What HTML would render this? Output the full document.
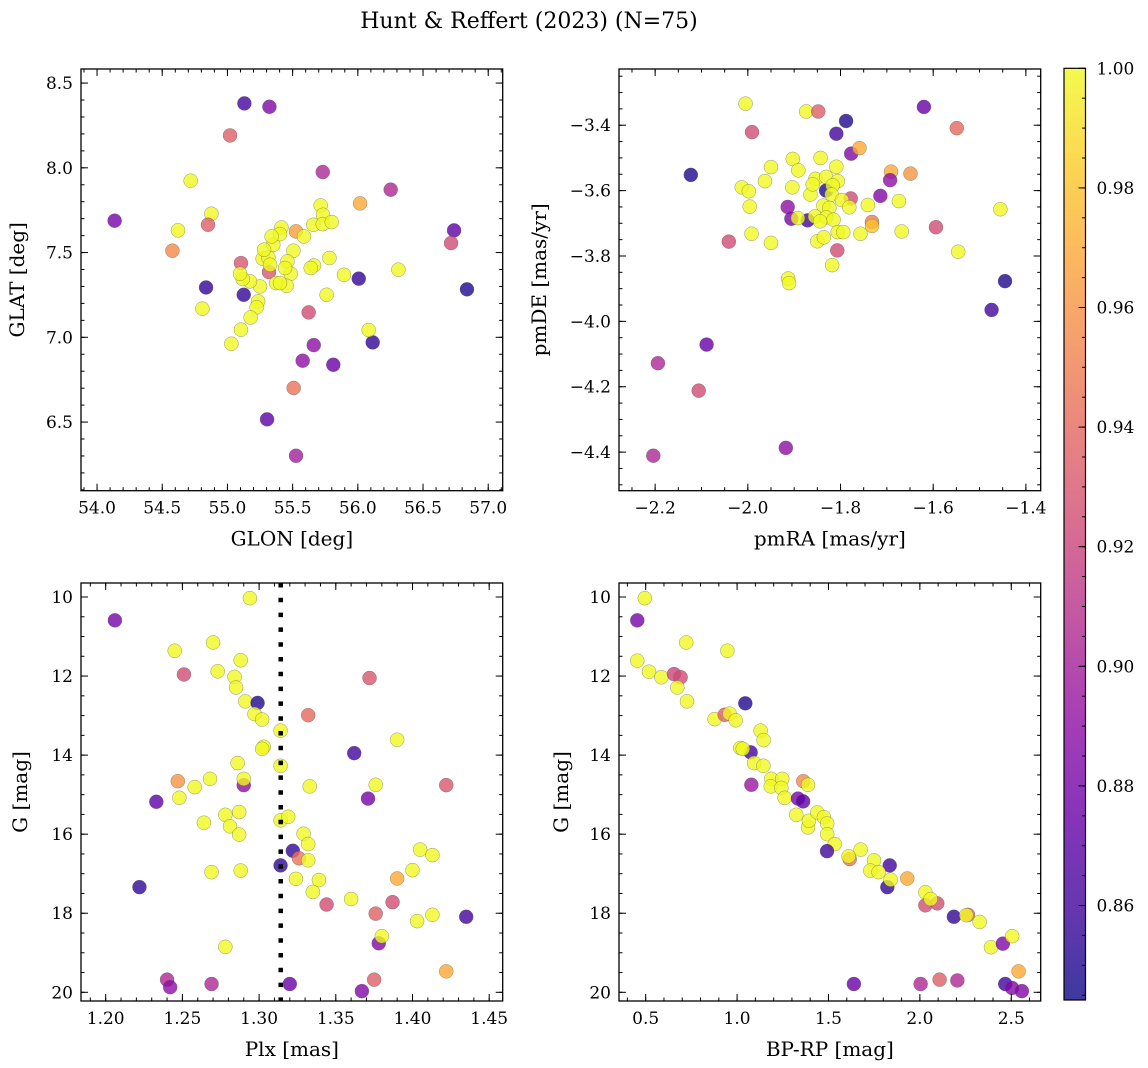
<!DOCTYPE html>
<html><head><meta charset="utf-8"><style>
html,body{margin:0;padding:0;background:#fff;}
svg{display:block;font-family:"DejaVu Serif","Liberation Serif",serif;}
</style></head><body>
<svg id="fig" width="1148" height="1068" viewBox="0 0 1148 1068" xmlns="http://www.w3.org/2000/svg">
<text x="529" y="28" font-size="22" text-anchor="middle">Hunt &amp; Reffert (2023) (N=75)</text>
</svg>
<script>
// ---- data ----
const glon = [54.135,55.130,55.322,55.020,54.718,55.731,56.252,56.017,54.877,54.851,54.621,54.578,56.738,56.715,54.836,55.125,54.808,56.007,56.311,56.837,55.623,55.662,55.577,55.812,56.114,56.083,55.030,55.508,55.304,55.526,55.104,55.319,55.526,
55.270,55.314,55.327,55.352,55.414,55.403,55.506,55.460,55.485,55.454,55.373,55.250,55.173,55.117,55.097,55.235,55.224,55.178,55.104,55.587,55.659,55.715,55.733,55.731,55.800,55.664,55.639,55.782,55.894,55.761,55.339,55.281,55.403,55.442];
const glat = [7.688,8.380,8.360,8.191,7.924,7.975,7.871,7.790,7.729,7.664,7.631,7.511,7.631,7.556,7.294,7.251,7.169,7.346,7.399,7.283,7.147,6.954,6.862,6.838,6.970,7.043,6.962,6.701,6.516,6.301,7.438,7.385,7.625,
7.464,7.471,7.428,7.546,7.648,7.609,7.511,7.448,7.375,7.304,7.320,7.300,7.330,7.344,7.375,7.212,7.177,7.117,7.045,7.595,7.664,7.778,7.723,7.668,7.680,7.424,7.409,7.468,7.369,7.251,7.595,7.517,7.320,7.409];
const prob1 = [0.88,0.86,0.885,0.935,1,0.905,0.905,0.97,1,0.935,1,0.955,0.87,0.925,0.855,0.855,1,0.855,1,0.85,0.925,0.89,0.89,0.875,0.855,1,1,0.945,0.87,0.9,0.93,0.93,0.965,
1,1,1,1,1,1,1,1,1,1,1,1,1,1,1,1,1,1,1,1,1,1,1,1,1,1,1,1,1,1,1,1,1,1];

const pmra = [-2.005,-1.874,-1.848,-1.788,-1.620,-1.549,-1.991,-1.809,-1.777,-1.759,-2.123,-1.691,-1.693,-1.649,-1.714,-1.778,-1.831,-1.914,-1.906,-1.871,-1.732,-1.594,-1.455,-2.041,-1.807,-1.546,-1.818,-1.913,-1.911,-1.445,-1.474,-2.089,-2.194,-2.106,-1.918,-2.204,
-2.013,-1.998,-1.996,-1.963,-1.950,-1.903,-1.891,-1.904,-1.843,-1.809,-1.854,-1.831,-1.806,-1.817,-1.865,-1.860,-1.819,-1.797,-1.837,-1.781,-1.741,-1.674,-1.824,-1.855,-1.831,-1.815,-1.844,-1.892,-1.992,-1.950,-1.850,-1.836,-1.806,-1.794,-1.757,-1.668,-1.732];
const pmde = [-3.334,-3.358,-3.358,-3.387,-3.344,-3.409,-3.421,-3.426,-3.487,-3.470,-3.552,-3.542,-3.568,-3.548,-3.616,-3.624,-3.600,-3.650,-3.686,-3.691,-3.696,-3.712,-3.657,-3.756,-3.783,-3.787,-3.828,-3.869,-3.883,-3.877,-3.965,-4.071,-4.128,-4.212,-4.387,-4.411,
-3.590,-3.602,-3.649,-3.571,-3.528,-3.503,-3.538,-3.590,-3.500,-3.527,-3.564,-3.558,-3.571,-3.584,-3.612,-3.581,-3.612,-3.629,-3.646,-3.651,-3.644,-3.632,-3.653,-3.679,-3.682,-3.689,-3.694,-3.684,-3.732,-3.760,-3.755,-3.743,-3.727,-3.727,-3.732,-3.725,-3.708];
const prob2 = [1,1,0.935,0.85,0.875,0.94,0.925,0.86,0.885,0.97,0.85,0.97,0.89,0.96,0.885,0.925,0.85,0.89,0.88,0.86,0.95,0.925,1,0.925,0.925,1,1,1,1,0.85,0.86,0.875,0.905,0.925,0.89,0.905,
1,1,1,1,1,1,1,1,1,1,1,1,1,1,1,1,1,1,1,1,1,1,1,1,1,1,1,1,1,1,1,1,1,1,1,1,0.98];

const plx = [1.294,1.206,1.270,1.245,1.288,1.251,1.273,1.284,1.285,1.372,1.291,1.299,1.297,1.302,1.332,1.314,1.390,1.362,1.303,1.302,1.286,1.314,1.247,1.268,1.258,1.290,1.290,1.333,1.376,1.422,1.233,1.248,1.371,1.278,1.287,1.264,1.281,1.287,1.314,1.319,1.329,1.332,1.322,1.326,1.332,1.314,1.405,1.413,1.269,1.288,1.400,1.390,1.324,1.339,1.335,1.222,1.360,1.344,1.387,1.376,1.403,1.413,1.435,1.378,1.380,1.278,1.422,1.240,1.242,1.269,1.320,1.375,1.367];
const gmag3 = [10.03,10.59,11.15,11.36,11.60,11.96,11.88,12.02,12.29,12.05,12.64,12.68,12.96,13.10,12.99,13.38,13.61,13.95,13.79,13.84,14.20,14.27,14.66,14.60,14.81,14.76,14.60,14.79,14.75,14.76,15.18,15.08,15.10,15.51,15.44,15.71,15.80,16.01,15.65,15.56,15.99,16.25,16.42,16.61,16.66,16.79,16.39,16.53,16.96,16.92,16.91,17.12,17.13,17.16,17.46,17.34,17.64,17.78,17.72,18.01,18.20,18.04,18.09,18.76,18.58,18.85,19.47,19.68,19.87,19.79,19.79,19.68,19.97];
const prob3 = [1,0.88,1,1,1,0.925,1,1,1,0.93,1,0.85,1,1,0.94,1,1,0.86,1,1,1,1,0.96,1,1,0.89,1,1,1,0.93,0.87,1,0.88,1,1,1,1,1,1,1,1,1,0.855,0.945,1,0.855,1,1,1,1,1,0.97,1,1,1,0.855,1,0.925,0.925,0.935,1,1,0.86,0.885,1,1,0.97,0.905,0.89,0.905,0.875,0.935,0.885];
const plxCut = [1.3141];

const bprp = [0.495,0.454,0.722,0.947,0.454,0.518,0.586,0.655,0.691,0.673,0.726,1.045,0.877,0.932,0.959,0.992,1.129,1.145,1.074,1.018,1.031,1.093,1.144,1.078,1.187,1.184,1.247,1.242,1.362,1.388,1.260,1.333,1.361,1.324,1.388,1.393,1.439,1.475,1.493,1.493,1.534,1.492,1.616,1.610,1.676,1.749,1.835,1.729,1.774,1.822,1.840,1.931,2.030,2.030,2.095,2.059,2.186,2.263,2.254,2.327,2.389,2.454,2.505,2.540,1.639,2.004,2.108,2.205,2.467,2.504,2.558];
const gmag4 = [10.03,10.59,11.15,11.36,11.61,11.89,12.03,11.95,12.03,12.29,12.64,12.69,13.09,12.98,12.95,13.12,13.38,13.62,13.93,13.82,13.84,14.20,14.27,14.75,14.60,14.79,14.60,14.83,14.66,14.75,15.08,15.10,15.17,15.51,15.83,15.66,15.45,15.57,15.73,16.00,16.25,16.43,16.63,16.56,16.39,16.66,16.79,16.92,16.96,17.34,17.15,17.12,17.47,17.80,17.75,17.64,18.09,18.04,18.05,18.22,18.86,18.77,18.58,19.47,19.79,19.79,19.68,19.70,19.79,19.89,19.97];
const prob4 = [1,0.88,1,1,1,1,1,0.92,0.925,1,1,0.85,1,0.935,1,1,1,1,0.86,1,1,1,1,0.895,1,1,1,1,0.955,1,1,0.88,0.87,1,1,1,1,1,1,1,1,0.86,0.945,1,1,1,0.86,1,1,0.855,1,0.97,1,0.925,0.925,1,0.855,0.935,1,1,1,0.885,1,0.97,0.875,0.905,0.935,0.905,0.86,0.885,0.885];

const ticks1x = [54.0,54.5,55.0,55.5,56.0,56.5,57.0];
const ticks1y = [6.5,7.0,7.5,8.0,8.5];
const ticks2x = [-2.2,-2.0,-1.8,-1.6,-1.4];
const ticks2y = [-4.4,-4.2,-4.0,-3.8,-3.6,-3.4];
const ticks3x = [1.20,1.25,1.30,1.35,1.40,1.45];
const ticksG = [10,12,14,16,18,20];
const ticks4x = [0.5,1.0,1.5,2.0,2.5];
const cbTicks = [0.86,0.88,0.90,0.92,0.94,0.96,0.98,1.00];
const vmin = 0.8442, vmax = 1.0;

// ---- helpers ----
const NS = 'http://www.w3.org/2000/svg';
const svg = document.getElementById('fig');
function mk(tag, attrs, parent){
  const e = document.createElementNS(NS, tag);
  for (const k in attrs) e.setAttribute(k, attrs[k]);
  (parent||svg).appendChild(e);
  return e;
}
const plasma = [[13,8,135],[65,4,157],[106,0,168],[143,13,164],[177,42,144],[204,71,120],[225,100,98],[242,132,75],[252,166,54],[252,206,37],[240,249,33]];
function cmap(v){
  let t = Math.max(0, Math.min(1, (v - vmin)/(vmax - vmin)));
  const f = t*10, i = Math.min(9, Math.floor(f)), r = f - i;
  const a = plasma[i], b = plasma[i+1];
  return 'rgb(' + [0,1,2].map(k => Math.round(a[k] + (b[k]-a[k])*r)).join(',') + ')';
}
function fmt(v, d){ return (v < 0 ? '\u2212' : '') + Math.abs(v).toFixed(d); }

function panel(cfg){
  const g = mk('g', {});
  
  
  const {L,T,R,B} = cfg;
  const sx = v => L + (v - cfg.x0)/(cfg.x1 - cfg.x0)*(R - L);
  const sy = cfg.invert ? (v => T + (v - cfg.y0)/(cfg.y1 - cfg.y0)*(B - T))
                        : (v => B - (v - cfg.y0)/(cfg.y1 - cfg.y0)*(B - T));
  const cid = cfg.name + '-clip';
  const cp = mk('clipPath', {id: cid}, g);
  mk('rect', {x:L, y:T, width:R-L, height:B-T}, cp);
  const pts = mk('g', {'clip-path': 'url(#' + cid + ')'}, g);
  
  
  for (let i = 0; i < cfg.xs.length; i++){
    const c = mk('circle', {cx: sx(cfg.xs[i]), cy: sy(cfg.ys[i]), r: 7, fill: cmap(cfg.cs[i]), 'fill-opacity': 0.8, stroke: '#555', 'stroke-opacity': 0.6, 'stroke-width': 0.5}, pts);
    
    
  }
  if (cfg.vline){
    const ln = mk('line', {x1: sx(cfg.vline[0]), x2: sx(cfg.vline[0]), y1: T, y2: B, stroke: '#000', 'stroke-width': 4.5, 'stroke-dasharray': '4.5 10.3'}, pts);
    
    
  }
  const tk = mk('g', {stroke: '#000', 'stroke-width': 1}, g);
  function minorRange(a, b, step){ const out=[]; const s = Math.ceil(a/step - 1e-6); for (let k = s; k*step <= b + 1e-9; k++) out.push(k*step); return out; }
  minorRange(cfg.x0, cfg.x1, cfg.xminor).forEach(v => {
    const x = sx(v); mk('line', {x1:x, x2:x, y1:B, y2:B-3.5}, tk); mk('line', {x1:x, x2:x, y1:T, y2:T+3.5}, tk);
  });
  minorRange(Math.min(cfg.y0,cfg.y1), Math.max(cfg.y0,cfg.y1), cfg.yminor).forEach(v => {
    const y = sy(v); mk('line', {x1:L, x2:L+3.5, y1:y, y2:y}, tk); mk('line', {x1:R, x2:R-3.5, y1:y, y2:y}, tk);
  });
  cfg.xt.forEach(v => {
    const x = sx(v); mk('line', {x1:x, x2:x, y1:B, y2:B-7}, tk); mk('line', {x1:x, x2:x, y1:T, y2:T+7}, tk);
    const t = mk('text', {x:x, y:B+23, 'font-size':17, 'text-anchor':'middle'}, g);
    t.textContent = fmt(v, cfg.xd);
    
    
  });
  cfg.yt.forEach(v => {
    const y = sy(v); mk('line', {x1:L, x2:L+7, y1:y, y2:y}, tk); mk('line', {x1:R, x2:R-7, y1:y, y2:y}, tk);
    const t = mk('text', {x:L-8, y:y+6, 'font-size':17, 'text-anchor':'end'}, g);
    t.textContent = fmt(v, cfg.yd);
    
    
  });
  const fr = mk('rect', {x:L, y:T, width:R-L, height:B-T, fill:'none', stroke:'#000', 'stroke-width':1.3}, g);
  
  
  const xl = mk('text', {x:(L+R)/2, y:B+55, 'font-size':20, 'text-anchor':'middle'}, g);
  xl.textContent = cfg.xlabel;
  
  
  const yx = cfg.ylx, yy = (T+B)/2;
  const yl = mk('text', {x:yx, y:yy, 'font-size':20, 'text-anchor':'middle', transform:'rotate(-90 ' + yx + ' ' + yy + ')'}, g);
  yl.textContent = cfg.ylabel;
  
  
}

panel({name:'glon-glat-panel', L:81, T:69, R:502.7, B:490.7, x0:53.877, x1:57.111, y0:6.095, y1:8.583,
  xs:glon, ys:glat, cs:prob1, xt:ticks1x, yt:ticks1y, xd:1, yd:1, xminor:0.1, yminor:0.1,
  xlabel:'GLON [deg]', ylabel:'GLAT [deg]', ylx:24});
panel({name:'proper-motion-panel', L:619, T:69, R:1040.7, B:490.7, x0:-2.278, x1:-1.368, y0:-4.518, y1:-3.228,
  xs:pmra, ys:pmde, cs:prob2, xt:ticks2x, yt:ticks2y, xd:1, yd:1, xminor:0.05, yminor:0.05,
  xlabel:'pmRA [mas/yr]', ylabel:'pmDE [mas/yr]', ylx:546});
panel({name:'parallax-g-panel', L:81, T:583, R:502.7, B:1001, x0:1.1839, x1:1.4588, y0:9.646, y1:20.22, invert:true,
  xs:plx, ys:gmag3, cs:prob3, xt:ticks3x, yt:ticksG, xd:2, yd:0, xminor:0.01, yminor:0.5,
  xlabel:'Plx [mas]', ylabel:'G [mag]', ylx:27, vline:plxCut});
panel({name:'cmd-panel', L:619, T:583, R:1040.7, B:1001, x0:0.354, x1:2.661, y0:9.646, y1:20.22, invert:true,
  xs:bprp, ys:gmag4, cs:prob4, xt:ticks4x, yt:ticksG, xd:1, yd:0, xminor:0.1, yminor:0.5,
  xlabel:'BP-RP [mag]', ylabel:'G [mag]', ylx:568});

// ---- colorbar ----
(function(){
  const L = 1064, R = 1085.5, T = 68.3, B = 1000;
  const cb = mk('g', {});
  
  
  const defs = mk('defs', {}, cb);
  const lg = mk('linearGradient', {id:'cbgrad', x1:0, y1:1, x2:0, y2:0}, defs);
  for (let k = 0; k <= 20; k++){
    const v = vmin + (vmax - vmin)*k/20;
    mk('stop', {offset: (k/20), 'stop-color': cmap(v), 'stop-opacity': 0.8}, lg);
  }
  mk('rect', {x:L, y:T, width:R-L, height:B-T, fill:'url(#cbgrad)'}, cb);
  const sy = v => B - (v - vmin)/(vmax - vmin)*(B - T);
  const tk = mk('g', {stroke:'#000', 'stroke-width':1}, cb);
  for (let k = Math.ceil(vmin/0.005); k*0.005 <= vmax + 1e-9; k++){
    const y = sy(k*0.005);
    mk('line', {x1:R, x2:R-3.5, y1:y, y2:y}, tk);
  }
  cbTicks.forEach(v => {
    const y = sy(v);
    mk('line', {x1:R, x2:R-7, y1:y, y2:y}, tk);
    const t = mk('text', {x:R+11, y:y+6, 'font-size':17}, cb);
    t.textContent = v.toFixed(2);
    
    
  });
  mk('rect', {x:L, y:T, width:R-L, height:B-T, fill:'none', stroke:'#000', 'stroke-width':1.2}, cb);
})();
</script>
</body></html>
